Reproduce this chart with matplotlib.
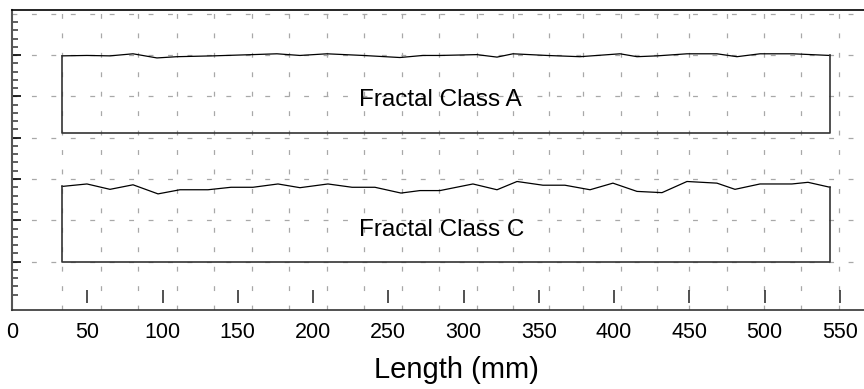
import matplotlib
matplotlib.use("Agg")
import matplotlib.pyplot as plt
from matplotlib.ticker import FixedLocator

# Profile of fractal class A (x in mm, height in grid units)
x_a = [33.2, 49.8, 65.1, 80.4, 96.3, 109.6, 133.5, 159.4, 176.0, 191.3, 209.2, 233.2,
       257.7, 273.0, 284.3, 308.9, 322.2, 332.8, 355.4, 377.3, 403.9, 415.2, 428.5,
       448.4, 468.3, 481.6, 496.9, 518.8, 543.4]
y_a = [5.98, 5.99, 5.98, 6.03, 5.93, 5.96, 5.98, 6.01, 6.03, 5.99, 6.03, 5.99,
       5.94, 5.99, 5.99, 6.01, 5.95, 6.03, 5.99, 5.96, 6.03, 5.96, 5.98,
       6.03, 6.03, 5.96, 6.03, 6.03, 5.99]
base_a = 4.12

# Profile of fractal class C
x_c = [33.2, 49.8, 65.1, 80.4, 97.0, 111.6, 130.2, 145.5, 160.1, 176.7, 191.3, 209.9,
       225.9, 241.1, 258.4, 271.0, 284.3, 306.2, 322.2, 335.5, 352.7, 367.3, 384.0,
       399.2, 415.2, 431.8, 448.4, 468.3, 480.3, 496.9, 518.1, 528.8, 543.4]
y_c = [2.82, 2.88, 2.75, 2.86, 2.64, 2.74, 2.74, 2.80, 2.80, 2.88, 2.79, 2.88,
       2.80, 2.80, 2.66, 2.72, 2.72, 2.88, 2.74, 2.94, 2.85, 2.85, 2.74,
       2.90, 2.70, 2.67, 2.94, 2.90, 2.75, 2.88, 2.88, 2.92, 2.80]
base_c = 1.0

labels = ["Fractal Class A", "Fractal Class C"]

# Axis ticks and grid positions
x_ticks = [0, 50, 100, 150, 200, 250, 300, 350, 400, 450, 500, 550]
grid_x = [33.2, 59.1, 83.7, 109.6, 134.2, 159.4, 184.0, 209.2, 233.8, 259.1, 283.6,
          308.9, 332.8, 356.7, 379.3, 404.5, 428.5, 449.7, 474.9, 499.5, 524.1, 549.4]
grid_y = [1, 2, 3, 4, 5, 6, 7]
y_major = [1, 2, 3, 4, 5, 6]
y_minor = [i / 5 for i in range(1, 35) if i % 5 != 0]

plt.rcParams['font.family'] = ['Liberation Sans', 'DejaVu Sans']
plt.rcParams['lines.scale_dashes'] = False

fig = plt.figure(figsize=(8.64, 3.89), dpi=100)
ax = fig.add_axes([12 / 864, 79 / 389, 852 / 864, 300 / 389])
ax.set_xlim(0, 566)
ax.set_ylim(-0.17, 7.09)

# dashed grid
dash = (0, (3.5, 10.5))
ax.vlines(grid_x, -0.17, 7.09, colors='#a8a8a8', linewidth=0.9, linestyles=[dash], zorder=1)
ax.hlines(grid_y, 0, 566, colors='#a8a8a8', linewidth=0.9, linestyles=[dash], zorder=1)

# the two profile boxes
for xs, ys, base in [(x_a, y_a, base_a), (x_c, y_c, base_c)]:
    ax.plot(xs, ys, color='black', linewidth=0.9, zorder=3)
    ax.plot([xs[0], xs[0], xs[-1], xs[-1]], [ys[0], base, base, ys[-1]],
            color='#333333', linewidth=1.2, zorder=3)

ax.text(284.3, 4.92, labels[0], fontsize=17.5, ha='center', va='center')
ax.text(285.6, 1.77, labels[1], fontsize=17.5, ha='center', va='center')

# tick marks drawn a little above the bottom axis
ax.vlines(x_ticks[1:], 0, 0.31, colors='#333333', linewidth=1.2, zorder=3)

ax.set_xticks(x_ticks)
ax.tick_params(axis='x', length=0, pad=9, labelsize=15.5)
ax.yaxis.set_major_locator(FixedLocator(y_major))
ax.yaxis.set_minor_locator(FixedLocator(y_minor))
ax.tick_params(axis='y', which='major', direction='in', length=6.5, width=1.2,
               color='black', labelleft=False)
ax.tick_params(axis='y', which='minor', direction='in', length=4.5, width=1.2,
               color='#444444')

ax.set_xlabel("Length (mm)", fontsize=21, va='top')
ax.xaxis.set_label_coords(0.522, -0.155)

ax.spines['right'].set_visible(False)
ax.spines['left'].set_color('#555555')
ax.spines['left'].set_linewidth(1.5)
ax.spines['top'].set_linewidth(1.2)
ax.spines['bottom'].set_color('#333333')
ax.spines['bottom'].set_linewidth(1.2)

fig.savefig("out.png", dpi=100)
